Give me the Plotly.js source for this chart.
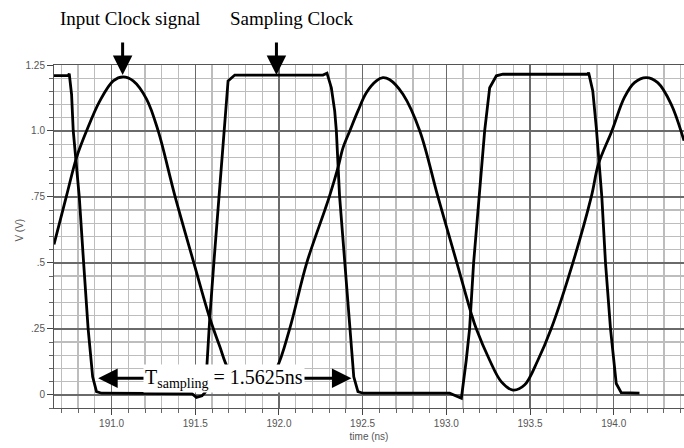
<!DOCTYPE html>
<html>
<head>
<meta charset="utf-8">
<script src="https://cdn.plot.ly/plotly-3.0.1.min.js"></script>
<style>html,body{margin:0;padding:0;background:#fff;}#chart{width:684px;height:448px;}</style>
</head>
<body>
<div id="chart"></div>
<script>
// Input clock signal (sine-like)
const inputTime = [190.656,190.731,190.791,190.851,190.930,191.010,191.069,191.129,191.209,191.278,191.378,191.491,191.587,191.647,191.696,191.770,191.836,191.905,191.985,192.064,192.166,192.273,192.303,192.353,192.383,192.423,192.472,192.522,192.582,192.621,192.660,192.741,192.841,192.950,193.063,193.149,193.179,193.259,193.328,193.398,193.467,193.547,193.627,193.756,193.866,193.909,193.989,194.064,194.124,194.194,194.263,194.343,194.420];
const inputV    = [0.57,0.755,0.900,1.001,1.114,1.190,1.205,1.190,1.121,1.001,0.755,0.501,0.29,0.182,0.10,0.045,0.02,0.037,0.10,0.25,0.50,0.698,0.755,0.862,0.937,1.0,1.076,1.145,1.19,1.202,1.195,1.139,1.001,0.75,0.50,0.308,0.25,0.131,0.05,0.018,0.037,0.131,0.251,0.50,0.75,0.875,1.0,1.127,1.183,1.202,1.183,1.102,0.963];
// Sampling clock (square-like)
const sampTime = [190.656,190.741,190.747,190.761,190.771,190.807,190.833,190.860,190.887,190.910,190.940,191.450,191.480,191.507,191.540,191.560,191.587,191.611,191.642,191.670,191.696,191.736,192.263,192.287,192.313,192.333,192.343,192.362,192.393,192.423,192.447,192.472,192.502,193.020,193.090,193.119,193.139,193.163,193.195,193.229,193.259,193.299,193.338,193.845,193.850,193.875,193.896,193.929,193.951,193.981,194.015,194.045,194.154];
const sampV    = [1.21,1.21,1.217,1.139,1.0,0.75,0.5,0.25,0.068,0.012,0.006,0.006,0.004,-0.01,-0.004,0.01,0.295,0.5,0.75,1.0,1.19,1.212,1.212,1.219,1.164,1.076,1.0,0.755,0.5,0.25,0.068,0.012,0.006,0.006,-0.013,0.131,0.25,0.5,0.75,1.0,1.164,1.209,1.215,1.215,1.221,1.152,1.013,0.75,0.5,0.25,0.043,0.008,0.006];

const yTickVals = [0,0.25,0.5,0.75,1.0,1.25];
const yTickText = ['0','.25','.5','.75','1.0','1.25'];

const traces = [
  {x: inputTime, y: inputV, mode:'lines', line: {color:'#000', width:2.8, shape:'spline', smoothing:1}, name:'Input Clock signal', hoverinfo:'skip'},
  {x: sampTime, y: sampV, mode:'lines', line: {color:'#000', width:2.8}, name:'Sampling Clock', hoverinfo:'skip'}
];

const serif = {family:'"Liberation Serif", "Times New Roman", serif', size:19, color:'#000'};
const tickFont = {family:'"Liberation Sans", Arial, sans-serif', size:10, color:'#555'};

const layout = {
  width:684, height:448,
  margin:{l:54, r:0, t:65, b:40},
  paper_bgcolor:'#fff', plot_bgcolor:'#fff',
  showlegend:false,
  xaxis:{
    range:[190.656,194.42], tick0:191, dtick:0.5, tickformat:'.1f',
    showgrid:true, gridcolor:'#6a6a6a', gridwidth:1.4,
    zeroline:false, showline:true, linecolor:'#555', linewidth:1, mirror:true,
    ticks:'outside', ticklen:6, tickcolor:'#444', tickfont:tickFont,
    minor:{dtick:0.1, tick0:191, showgrid:true, gridcolor:'#bdbdbd', gridwidth:1.3, ticks:'outside', ticklen:4, tickcolor:'#666'},
    title:{text:'time (ns)', font:tickFont, standoff:4}
  },
  yaxis:{
    range:[-0.05,1.25], tickvals:yTickVals, ticktext:yTickText,
    showgrid:true, gridcolor:'#6a6a6a', gridwidth:1.4,
    zeroline:false, showline:true, linecolor:'#555', linewidth:1,
    ticks:'outside', ticklen:6, tickcolor:'#444', tickfont:tickFont,
    minor:{dtick:0.05, tick0:0, showgrid:true, gridcolor:'#bdbdbd', gridwidth:1.3, ticks:'outside', ticklen:4, tickcolor:'#666'}
  },
  annotations:[
    {xref:'paper', yref:'paper', x:-0.054, y:0.52, text:'V (V)', textangle:-90, showarrow:false, font:tickFont, xanchor:'center', yanchor:'middle'},
    {xref:'x', yref:'paper', x:191.112, y:1.137, text:'Input Clock signal', showarrow:false, font:serif, xanchor:'center', yanchor:'middle'},
    {xref:'x', yref:'paper', x:192.076, y:1.137, text:'Sampling Clock', showarrow:false, font:serif, xanchor:'center', yanchor:'middle'},
    {xref:'x', yref:'y', x:191.066, y:1.212, text:'', showarrow:true, arrowhead:2, arrowsize:1.3, arrowwidth:3, arrowcolor:'#000', ax:0, ay:-34},
    {xref:'x', yref:'y', x:191.985, y:1.212, text:'', showarrow:true, arrowhead:2, arrowsize:1.3, arrowwidth:3, arrowcolor:'#000', ax:0, ay:-34},
    {xref:'x', yref:'y', x:190.92, y:0.063, text:'', showarrow:true, arrowhead:2, arrowsize:1.3, arrowwidth:3, arrowcolor:'#000', ax:50, ay:0},
    {xref:'x', yref:'y', x:192.433, y:0.063, text:'', showarrow:true, arrowhead:2, arrowsize:1.3, arrowwidth:3, arrowcolor:'#000', ax:-52, ay:0},
    {xref:'x', yref:'y', x:191.671, y:0.063, text:'T<sub>sampling</sub> = 1.5625ns', showarrow:false, font:{family:'"Liberation Serif", "Times New Roman", serif', size:20, color:'#000'}, bgcolor:'#fff', borderpad:1, xanchor:'center', yanchor:'middle'}
  ]
};

Plotly.newPlot('chart', traces, layout, {displayModeBar:false, staticPlot:true});
</script>
</body>
</html>
